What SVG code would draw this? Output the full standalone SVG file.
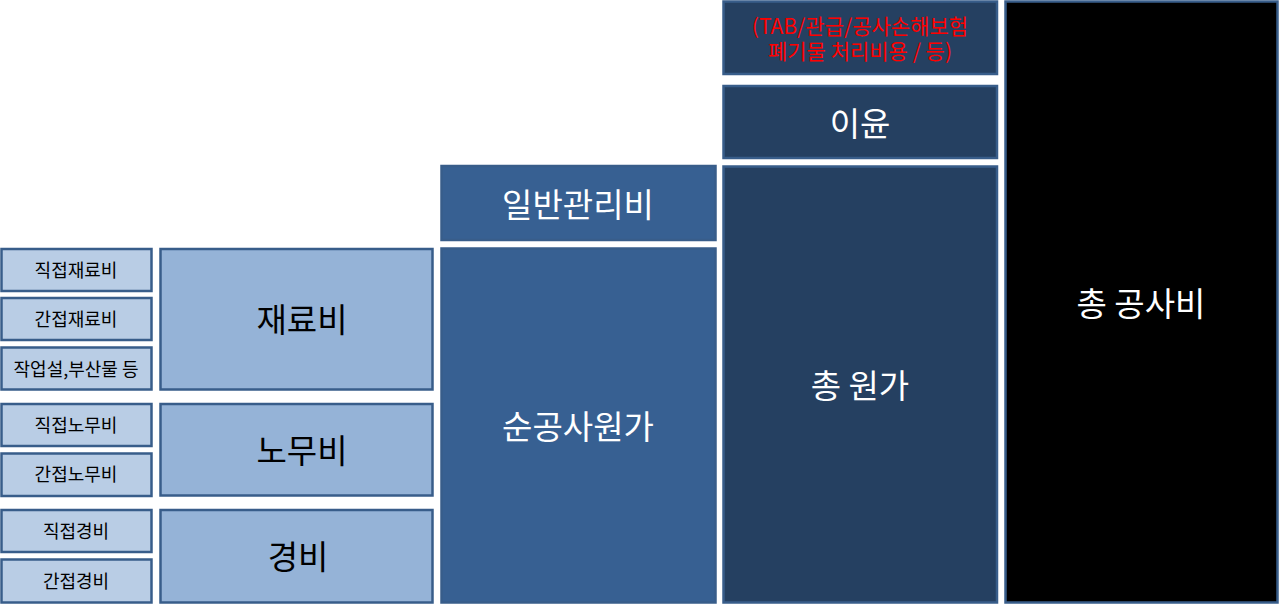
<svg xmlns="http://www.w3.org/2000/svg" width="1280" height="604" viewBox="0 0 1280 604">
<style>
.b{stroke:#385D8A;stroke-width:2.5}
.s{fill:#B9CDE5}
.m{fill:#95B3D7}
.c3{fill:#376092}
.c4{fill:#254061}
.c5{fill:#000000}
text{font-family:"Noto Sans CJK KR","Noto Sans",sans-serif;text-anchor:middle;dominant-baseline:central}
.ts{font-size:18px;fill:#000}
.tm{font-size:33px;fill:#000}
.tw{font-size:33px;fill:#fff}
.tr{font-size:21px;fill:#FF0000}
</style>
<rect width="1280" height="604" fill="#fff"/>
<g id="n-direct-material"><rect class="b s" x="1.5" y="249" width="150" height="42"/><text class="ts" x="76" y="269">직접재료비</text></g>
<g id="n-indirect-material"><rect class="b s" x="1.5" y="298" width="150" height="42"/><text class="ts" x="76" y="318">간접재료비</text></g>
<g id="n-byproduct"><rect class="b s" x="1.5" y="347.5" width="150" height="42"/><text class="ts" x="76" y="368">작업설,부산물 등</text></g>
<g id="n-direct-labor"><rect class="b s" x="1.5" y="404" width="150" height="42"/><text class="ts" x="76" y="424">직접노무비</text></g>
<g id="n-indirect-labor"><rect class="b s" x="1.5" y="453.5" width="150" height="42.5"/><text class="ts" x="76" y="473">간접노무비</text></g>
<g id="n-direct-expense"><rect class="b s" x="1.5" y="510" width="150" height="42"/><text class="ts" x="76" y="530">직접경비</text></g>
<g id="n-indirect-expense"><rect class="b s" x="1.5" y="559.5" width="150" height="43"/><text class="ts" x="76" y="580">간접경비</text></g>
<g id="n-material"><rect class="b m" x="160.5" y="249" width="272" height="140.5"/><text class="tm" x="302" y="318">재료비</text></g>
<g id="n-labor"><rect class="b m" x="160.5" y="404" width="272" height="91.5"/><text class="tm" x="302" y="449">노무비</text></g>
<g id="n-expense"><rect class="b m" x="160.5" y="510" width="272" height="92.5"/><text class="tm" x="298" y="555">경비</text></g>
<g id="n-overhead"><rect class="b c3" x="441.5" y="166" width="274" height="74"/><text class="tw" x="578" y="203">일반관리비</text></g>
<g id="n-net-cost"><rect class="b c3" x="441.5" y="248.5" width="274" height="354"/><text class="tw" x="578" y="425">순공사원가</text></g>
<g id="n-extra"><rect class="b c4" x="723.5" y="1.5" width="273.5" height="72.5"/><text class="tr" x="860" y="25">(TAB/관급/공사손해보험</text><text class="tr" x="860" y="50">폐기물 처리비용 / 등)</text></g>
<g id="n-profit"><rect class="b c4" x="723.5" y="86" width="273.5" height="72"/><text class="tw" x="860" y="122">이윤</text></g>
<g id="n-total-cost"><rect class="b c4" x="723.5" y="166.5" width="273.5" height="436"/><text class="tw" x="860" y="384">총 원가</text></g>
<g id="n-total"><rect class="b c5" x="1005.5" y="1.5" width="272" height="601"/><text class="tw" x="1141" y="302">총 공사비</text></g>
<g id="connectors"></g>
</svg>
